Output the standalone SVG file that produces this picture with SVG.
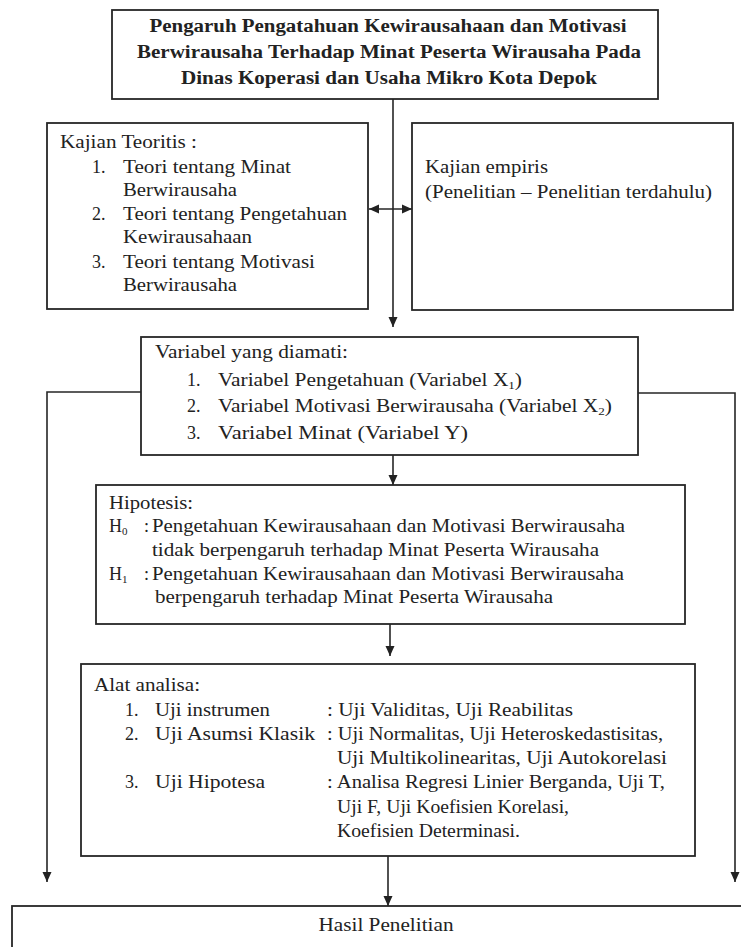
<svg xmlns="http://www.w3.org/2000/svg" width="741" height="947" viewBox="0 0 741 947">
<style>
.box{fill:#fff;stroke:#262626;stroke-width:1.8}
.t{font-family:'Liberation Serif','DejaVu Serif',serif;font-size:18px;fill:#222}
.b{font-weight:bold}
.c{stroke:#262626;stroke-width:1.6;fill:none}
.sub{font-size:11px}
</style>
<defs>
<marker id="ah" viewBox="0 0 10 10" refX="10" refY="5" markerWidth="10" markerHeight="10" markerUnits="userSpaceOnUse" orient="auto-start-reverse">
<path d="M0,0.5 L10,5 L0,9.5 z" fill="#222"/>
</marker>
</defs>
<rect width="741" height="947" fill="#fff"/>

<g id="connectors">
<line class="c" x1="393" y1="99" x2="393" y2="327" marker-end="url(#ah)"/>
<line class="c" x1="369" y1="209" x2="412" y2="209" marker-start="url(#ah)" marker-end="url(#ah)"/>
<line class="c" x1="393" y1="455" x2="393" y2="485" marker-end="url(#ah)"/>
<line class="c" x1="390" y1="624" x2="390" y2="656" marker-end="url(#ah)"/>
<line class="c" x1="388" y1="856" x2="388" y2="906" marker-end="url(#ah)"/>
<polyline class="c" points="141,392 47,392 47,882" marker-end="url(#ah)"/>
<polyline class="c" points="638,393 735,393 735,882" marker-end="url(#ah)"/>
</g>

<g id="judul">
<rect class="box" x="112" y="10" width="546" height="89"/>
<text class="t b" text-anchor="middle" x="388" y="32" textLength="477" lengthAdjust="spacingAndGlyphs">Pengaruh Pengatahuan Kewirausahaan dan Motivasi</text>
<text class="t b" text-anchor="middle" x="389" y="58" textLength="504" lengthAdjust="spacingAndGlyphs">Berwirausaha Terhadap Minat Peserta Wirausaha Pada</text>
<text class="t b" text-anchor="middle" x="389" y="84" textLength="416" lengthAdjust="spacingAndGlyphs">Dinas Koperasi dan Usaha Mikro Kota Depok</text>
</g>

<g id="kajian-teoritis">
<rect class="box" x="47" y="123" width="321" height="186"/>
<text class="t" x="60" y="148" textLength="137" lengthAdjust="spacingAndGlyphs">Kajian Teoritis :</text>
<text class="t" x="92" y="173">1.</text><text class="t" x="123" y="173" textLength="168" lengthAdjust="spacingAndGlyphs">Teori tentang Minat</text>
<text class="t" x="123" y="196" textLength="114" lengthAdjust="spacingAndGlyphs">Berwirausaha</text>
<text class="t" x="92" y="220">2.</text><text class="t" x="123" y="220" textLength="224" lengthAdjust="spacingAndGlyphs">Teori tentang Pengetahuan</text>
<text class="t" x="123" y="243" textLength="129" lengthAdjust="spacingAndGlyphs">Kewirausahaan</text>
<text class="t" x="92" y="268">3.</text><text class="t" x="123" y="268" textLength="192" lengthAdjust="spacingAndGlyphs">Teori tentang Motivasi</text>
<text class="t" x="123" y="291" textLength="114" lengthAdjust="spacingAndGlyphs">Berwirausaha</text>
</g>

<g id="kajian-empiris">
<rect class="box" x="412" y="123" width="321" height="187"/>
<text class="t" x="425" y="173" textLength="123" lengthAdjust="spacingAndGlyphs">Kajian empiris</text>
<text class="t" x="425" y="198" textLength="287" lengthAdjust="spacingAndGlyphs">(Penelitian – Penelitian terdahulu)</text>
</g>

<g id="variabel">
<rect class="box" x="141" y="337" width="497" height="118"/>
<text class="t" x="155" y="358" textLength="193" lengthAdjust="spacingAndGlyphs">Variabel yang diamati:</text>
<text class="t" x="187" y="386">1.</text><text class="t" x="218" y="386" textLength="304" lengthAdjust="spacingAndGlyphs">Variabel Pengetahuan (Variabel X<tspan class="sub" dy="3">1</tspan><tspan dy="-3">)</tspan></text>
<text class="t" x="187" y="412">2.</text><text class="t" x="218" y="412" textLength="394" lengthAdjust="spacingAndGlyphs">Variabel Motivasi Berwirausaha (Variabel X<tspan class="sub" dy="3">2</tspan><tspan dy="-3">)</tspan></text>
<text class="t" x="187" y="439">3.</text><text class="t" x="218" y="439" textLength="250" lengthAdjust="spacingAndGlyphs">Variabel Minat (Variabel Y)</text>
</g>

<g id="hipotesis">
<rect class="box" x="96" y="485" width="589" height="139"/>
<text class="t" x="109" y="509" textLength="84" lengthAdjust="spacingAndGlyphs">Hipotesis:</text>
<text class="t" x="109" y="532">H<tspan class="sub" dy="3">0</tspan></text>
<text class="t" x="144" y="532">:</text>
<text class="t" x="152" y="532" textLength="473" lengthAdjust="spacingAndGlyphs">Pengetahuan Kewirausahaan dan Motivasi Berwirausaha</text>
<text class="t" x="152" y="556" textLength="447" lengthAdjust="spacingAndGlyphs">tidak berpengaruh terhadap Minat Peserta Wirausaha</text>
<text class="t" x="109" y="580">H<tspan class="sub" dy="3">1</tspan></text>
<text class="t" x="144" y="580">:</text>
<text class="t" x="152" y="580" textLength="472" lengthAdjust="spacingAndGlyphs">Pengetahuan Kewirausahaan dan Motivasi Berwirausaha</text>
<text class="t" x="155" y="603" textLength="398" lengthAdjust="spacingAndGlyphs">berpengaruh terhadap Minat Peserta Wirausaha</text>
</g>

<g id="alat-analisa">
<rect class="box" x="81" y="664" width="614" height="192"/>
<text class="t" x="94" y="691" textLength="106" lengthAdjust="spacingAndGlyphs">Alat analisa:</text>
<text class="t" x="125" y="716">1.</text><text class="t" x="155" y="716" textLength="115" lengthAdjust="spacingAndGlyphs">Uji instrumen</text><text class="t" x="327" y="716" textLength="246" lengthAdjust="spacingAndGlyphs">: Uji Validitas, Uji Reabilitas</text>
<text class="t" x="125" y="740">2.</text><text class="t" x="155" y="740" textLength="160" lengthAdjust="spacingAndGlyphs">Uji Asumsi Klasik</text><text class="t" x="327" y="740" textLength="336" lengthAdjust="spacingAndGlyphs">: Uji Normalitas, Uji Heteroskedastisitas,</text>
<text class="t" x="337" y="764" textLength="330" lengthAdjust="spacingAndGlyphs">Uji Multikolinearitas, Uji Autokorelasi</text>
<text class="t" x="125" y="788">3.</text><text class="t" x="155" y="788" textLength="110" lengthAdjust="spacingAndGlyphs">Uji Hipotesa</text><text class="t" x="327" y="788" textLength="338" lengthAdjust="spacingAndGlyphs">: Analisa Regresi Linier Berganda, Uji T,</text>
<text class="t" x="337" y="813" textLength="232" lengthAdjust="spacingAndGlyphs">Uji F,  Uji Koefisien Korelasi,</text>
<text class="t" x="337" y="837" textLength="183" lengthAdjust="spacingAndGlyphs">Koefisien Determinasi.</text>
</g>

<g id="hasil">
<rect class="box" x="12" y="906" width="740" height="60"/>
<text class="t" text-anchor="middle" x="386" y="931" textLength="135" lengthAdjust="spacingAndGlyphs">Hasil Penelitian</text>
</g>
</svg>
